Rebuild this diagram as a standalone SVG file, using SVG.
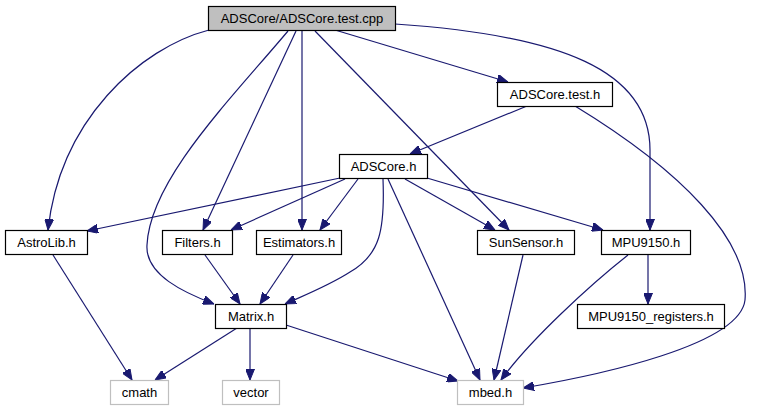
<svg xmlns="http://www.w3.org/2000/svg" width="758" height="411" viewBox="0 0 758 411">
<style>
rect{stroke-width:1.2}
.n rect{fill:#fff;stroke:#000}
.r rect{fill:#bfbfbf;stroke:#000}
.g rect{fill:#fff;stroke:#bfbfbf}
text{font-family:"Liberation Sans",Arial,sans-serif;font-size:13px;fill:#000;text-anchor:middle}
#edges path{fill:none;stroke:#191970;stroke-width:1.2;marker-end:url(#a)}
</style>
<defs>
<marker id="a" viewBox="0 0 11 9" refX="11" refY="4.5" markerWidth="11" markerHeight="9" markerUnits="userSpaceOnUse" orient="auto">
<path d="M0,0 L11,4.5 L0,9 z" fill="#191970" stroke="#191970" stroke-width="1"/>
</marker>
</defs>
<rect width="758" height="411" fill="#fff"/>
<g id="edges">
<path d="M335,30 L508,82"/>
<path d="M209,30 C140,48 60,120 48,230"/>
<path d="M288,31 C230,100 150,180 147,245 C145,275 185,293 214,304"/>
<path d="M296,31 L203,230"/>
<path d="M302,31 L302,230"/>
<path d="M315,31 L509,230"/>
<path d="M395,24 C560,35 650,70 650,150 L650,230"/>
<path d="M527,106 L410,154"/>
<path d="M575,106 C680,170 750,240 745,300 C740,345 600,375 523,388"/>
<path d="M340,178 L87,231"/>
<path d="M345,179 L231,230"/>
<path d="M358,179 L320,230"/>
<path d="M383,179 C385,230 380,255 350,272 C330,285 305,295 285,304"/>
<path d="M405,179 L495,230"/>
<path d="M427,178 L603,230"/>
<path d="M388,179 L480,380"/>
<path d="M523,255 L494,380"/>
<path d="M628,255 C590,285 530,340 501,380"/>
<path d="M648,255 L648,304"/>
<path d="M53,255 L132,380"/>
<path d="M205,255 L240,304"/>
<path d="M293,255 L260,304"/>
<path d="M237,328 L155,380"/>
<path d="M250,328 L250,380"/>
<path d="M286,325 L458,381"/>
</g>
<g id="root" class="r"><rect x="208.5" y="6.5" width="187" height="24"/><text x="302" y="23">ADSCore/ADSCore.test.cpp</text></g>
<g id="adscore_test_h" class="n"><rect x="497.5" y="82.5" width="115" height="24"/><text x="555" y="99">ADSCore.test.h</text></g>
<g id="adscore_h" class="n"><rect x="339.5" y="154.5" width="88" height="24"/><text x="383.5" y="171">ADSCore.h</text></g>
<g id="astrolib_h" class="n"><rect x="5.5" y="230.5" width="82" height="24"/><text x="46.5" y="247">AstroLib.h</text></g>
<g id="filters_h" class="n"><rect x="162.5" y="230.5" width="70" height="24"/><text x="197.5" y="247">Filters.h</text></g>
<g id="estimators_h" class="n"><rect x="256.5" y="230.5" width="85" height="24"/><text x="299" y="247">Estimators.h</text></g>
<g id="sunsensor_h" class="n"><rect x="477.5" y="230.5" width="97" height="24"/><text x="526" y="247">SunSensor.h</text></g>
<g id="mpu9150_h" class="n"><rect x="601.5" y="230.5" width="89" height="24"/><text x="646" y="247">MPU9150.h</text></g>
<g id="matrix_h" class="n"><rect x="215.5" y="304.5" width="71" height="24"/><text x="251" y="321">Matrix.h</text></g>
<g id="mpu9150_registers_h" class="n"><rect x="577.5" y="304.5" width="147" height="24"/><text x="651" y="321">MPU9150_registers.h</text></g>
<g id="cmath" class="g"><rect x="110.5" y="380.5" width="58" height="24"/><text x="139.5" y="397">cmath</text></g>
<g id="vector" class="g"><rect x="222.5" y="380.5" width="57" height="24"/><text x="251" y="397">vector</text></g>
<g id="mbed_h" class="g"><rect x="457.5" y="380.5" width="66" height="24"/><text x="490.5" y="397">mbed.h</text></g>
</svg>
